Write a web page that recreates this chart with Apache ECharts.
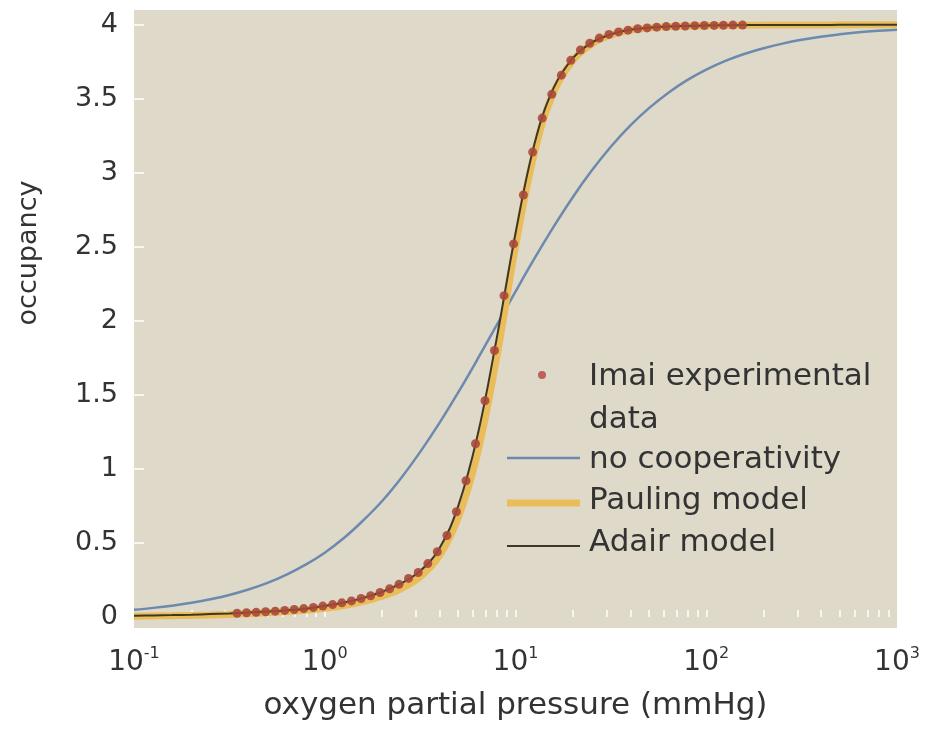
<!DOCTYPE html>
<html>
<head>
<meta charset="utf-8">
<title>Oxygen binding curves</title>
<script src="https://cdn.jsdelivr.net/npm/echarts@6/dist/echarts.min.js"></script>
<style>
  html, body { margin: 0; padding: 0; background: #ffffff; }
  #chart { width: 926px; height: 731px; }
</style>
</head>
<body>
<div id="chart"></div>
<script>
const imaiPressure = [0.347, 0.389, 0.437, 0.490, 0.550, 0.617, 0.692, 0.776, 0.871, 0.977,
  1.10, 1.23, 1.38, 1.55, 1.74, 1.95, 2.19, 2.45, 2.75, 3.09,
  3.47, 3.89, 4.37, 4.90, 5.50, 6.17, 6.92, 7.76, 8.71, 9.77,
  11.0, 12.3, 13.8, 15.5, 17.4, 19.5, 21.9, 24.5, 27.5, 30.9,
  34.7, 38.9, 43.7, 49.0, 55.0, 61.7, 69.2, 77.6, 87.1, 97.7,
  110, 123, 138, 155];
const imaiOccupancy = [0.025, 0.028, 0.031, 0.035, 0.039, 0.044, 0.050, 0.056, 0.064, 0.073,
  0.083, 0.095, 0.108, 0.124, 0.143, 0.165, 0.19, 0.22, 0.26, 0.30,
  0.36, 0.44, 0.55, 0.71, 0.92, 1.17, 1.46, 1.80, 2.17, 2.52,
  2.85, 3.14, 3.37, 3.53, 3.66, 3.76, 3.83, 3.875, 3.91, 3.935,
  3.952, 3.964, 3.973, 3.979, 3.984, 3.988, 3.99, 3.992, 3.994, 3.995,
  3.996, 3.997, 3.998, 3.998];

// model curves, read at pressures a tenth of a decade apart
const curvePressure = [0.1, 0.126, 0.158, 0.2, 0.251, 0.316, 0.398, 0.501, 0.631, 0.794,
  1, 1.26, 1.58, 2, 2.51, 3.16, 3.98, 5.01, 6.31, 7.94,
  10, 12.6, 15.8, 20, 25.1, 31.6, 39.8, 50.1, 63.1, 79.4,
  100, 126, 158, 200, 251, 316, 398, 501, 631, 794, 1000];
const noCoopOccupancy = [0.048, 0.061, 0.076, 0.095, 0.119, 0.148, 0.185, 0.23, 0.286, 0.353,
  0.434, 0.533, 0.648, 0.783, 0.937, 1.113, 1.307, 1.517, 1.739, 1.968,
  2.198, 2.423, 2.633, 2.837, 3.015, 3.176, 3.317, 3.437, 3.540, 3.626,
  3.697, 3.756, 3.803, 3.842, 3.873, 3.899, 3.920, 3.936, 3.949, 3.959, 3.967];
const paulingOccupancy = [0.005, 0.006, 0.008, 0.010, 0.013, 0.017, 0.022, 0.028, 0.036, 0.045,
  0.058, 0.077, 0.103, 0.14, 0.19, 0.27, 0.41, 0.67, 1.10, 1.74,
  2.50, 3.14, 3.54, 3.76, 3.87, 3.93, 3.963, 3.978, 3.987, 3.991,
  3.994, 3.996, 3.997, 3.998, 3.999, 3.999, 3.999, 4.0, 4.0, 4.0, 4.0];
const adairOccupancy = [0.008, 0.010, 0.012, 0.015, 0.019, 0.023, 0.029, 0.036, 0.044, 0.055,
  0.075, 0.097, 0.127, 0.17, 0.226, 0.31, 0.46, 0.75, 1.22, 1.87,
  2.59, 3.20, 3.57, 3.775, 3.88, 3.935, 3.966, 3.98, 3.988, 3.992,
  3.995, 3.997, 3.998, 3.998, 3.999, 3.999, 3.999, 4.0, 4.0, 4.0, 4.0];

// axis ticks
const xTickValues = [0.1, 1, 10, 100, 1000];
const xMinorTicks = [0.2, 0.3, 0.4, 0.5, 0.6, 0.7, 0.8, 0.9, 1,
  2, 3, 4, 5, 6, 7, 8, 9, 10, 20, 30, 40, 50, 60, 70, 80, 90, 100,
  200, 300, 400, 500, 600, 700, 800, 900];
const yTickValues = [0, 0.5, 1, 1.5, 2, 2.5, 3, 3.5, 4];

const FONT = 'DejaVu Sans';
const TEXT = '#333333';

const zip = (xs, ys) => xs.map((x, i) => [x, ys[i]]);

const chart = echarts.init(document.getElementById('chart'));

const legendX = 507;
const legendTextX = 589;

chart.setOption({
  backgroundColor: '#ffffff',
  animation: false,
  grid: {
    left: 134,
    right: 29,
    top: 10,
    bottom: 103,
    show: true,
    backgroundColor: '#dfd9ca',
    borderWidth: 0
  },
  xAxis: {
    type: 'log',
    logBase: 10,
    min: 0.1,
    max: 1000,
    name: 'oxygen partial pressure (mmHg)',
    nameLocation: 'middle',
    nameGap: 62,
    nameTextStyle: { fontFamily: FONT, fontSize: 31, color: TEXT },
    axisLine: { show: false },
    splitLine: { show: false },
    axisTick: {
      show: true,
      inside: true,
      length: 7,
      customValues: xMinorTicks,
      lineStyle: { color: '#ffffff', width: 1.5 }
    },
    axisLabel: {
      margin: 18,
      customValues: xTickValues,
      formatter: (v) => '{b|10}{s|' + Math.round(Math.log10(v)) + '}',
      rich: {
        b: { fontFamily: FONT, fontSize: 28, color: TEXT, lineHeight: 34 },
        s: { fontFamily: FONT, fontSize: 16, color: TEXT, verticalAlign: 'top', lineHeight: 34 }
      }
    }
  },
  yAxis: {
    type: 'value',
    min: -0.075,
    max: 4.1,
    axisLine: { show: false },
    splitLine: { show: false },
    axisTick: {
      show: true,
      inside: true,
      length: 10,
      customValues: yTickValues,
      lineStyle: { color: '#ffffff', width: 1.5 }
    },
    axisLabel: {
      margin: 16,
      customValues: yTickValues,
      fontFamily: FONT,
      fontSize: 27,
      color: TEXT
    }
  },
  series: [
    {
      name: 'no cooperativity',
      type: 'line',
      smooth: 0.4,
      showSymbol: false,
      data: zip(curvePressure, noCoopOccupancy),
      lineStyle: { color: '#6c89ae', width: 2.5 },
      itemStyle: { color: '#6c89ae' },
      z: 2
    },
    {
      name: 'Pauling model',
      type: 'line',
      smooth: 0.4,
      showSymbol: false,
      data: zip(curvePressure, paulingOccupancy),
      lineStyle: { color: '#ebbd5a', width: 7 },
      itemStyle: { color: '#ebbd5a' },
      z: 3
    },
    {
      name: 'Adair model',
      type: 'line',
      smooth: 0.4,
      showSymbol: false,
      data: zip(curvePressure, adairOccupancy),
      lineStyle: { color: '#3d3826', width: 2 },
      itemStyle: { color: '#3d3826' },
      z: 4
    },
    {
      name: 'Imai experimental data',
      type: 'scatter',
      symbol: 'circle',
      symbolSize: 9,
      data: zip(imaiPressure, imaiOccupancy),
      itemStyle: { color: '#a9493a', opacity: 0.9 },
      z: 5
    }
  ],
  graphic: [
    {
      type: 'text',
      x: 29,
      y: 253,
      rotation: Math.PI / 2,
      style: {
        text: 'occupancy',
        fontFamily: FONT,
        fontSize: 27,
        fill: TEXT,
        align: 'center',
        verticalAlign: 'middle'
      }
    },
    // legend
    {
      type: 'circle',
      shape: { cx: 542, cy: 375, r: 4 },
      style: { fill: '#c0605a' }
    },
    {
      type: 'text',
      x: legendTextX,
      y: 398,
      style: {
        text: 'Imai experimental\ndata',
        fontFamily: FONT,
        fontSize: 31,
        lineHeight: 43,
        fill: TEXT,
        align: 'left',
        verticalAlign: 'middle'
      }
    },
    {
      type: 'line',
      shape: { x1: legendX, y1: 458, x2: 580, y2: 458 },
      style: { stroke: '#6c89ae', lineWidth: 2.5 }
    },
    {
      type: 'text',
      x: legendTextX,
      y: 460,
      style: { text: 'no cooperativity', fontFamily: FONT, fontSize: 31, fill: TEXT, verticalAlign: 'middle' }
    },
    {
      type: 'line',
      shape: { x1: legendX, y1: 503, x2: 580, y2: 503 },
      style: { stroke: '#ebbd5a', lineWidth: 7 }
    },
    {
      type: 'text',
      x: legendTextX,
      y: 501,
      style: { text: 'Pauling model', fontFamily: FONT, fontSize: 31, fill: TEXT, verticalAlign: 'middle' }
    },
    {
      type: 'line',
      shape: { x1: legendX, y1: 546, x2: 580, y2: 546 },
      style: { stroke: '#3d3826', lineWidth: 2 }
    },
    {
      type: 'text',
      x: legendTextX,
      y: 543,
      style: { text: 'Adair model', fontFamily: FONT, fontSize: 31, fill: TEXT, verticalAlign: 'middle' }
    }
  ]
});
</script>
</body>
</html>
